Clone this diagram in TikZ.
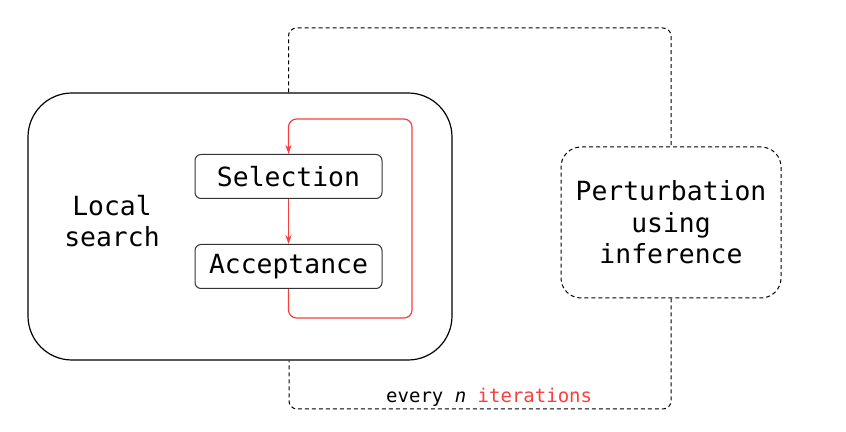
\documentclass[tikz,border=0pt]{standalone}
\usepackage{fontspec}
\setmonofont{DejaVu Sans Mono}
\usepackage{xcolor}
\usepackage{tikz}
\usetikzlibrary{arrows,arrows.meta}

\definecolor{looped}{RGB}{250,62,62}

\begin{document}
\begin{tikzpicture}[x=0.5pt,y=-0.5pt,
		box/.style={draw=black!80,line width=0.5pt,rounded corners=3pt,minimum width=93.5pt,minimum height=22pt,inner sep=0pt,font=\fontsize{13.2}{15.7}\ttfamily},
		lbl/.style={align=center,inner sep=0pt,font=\fontsize{13.2}{15.7}\ttfamily},
		dashline/.style={dash pattern=on 2pt off 1.5pt,line width=0.5pt,rounded corners=4pt}]
		\useasboundingbox (0,0) rectangle (846,432);
		\node (search) at (240,226.5) [draw,line width=0.6pt,rounded corners=22pt,minimum width=212pt,minimum height=133.5pt] {};
		\node (searchlabel) at (112,221) [lbl] {Local\\search};
		\node (sel) at (288.5,176.5) [box] {Selection};
		\node (acc) at (288.5,266.5) [box] {Acceptance};
		\node (pert) at (671,222.5) [draw,dashline,rounded corners=10pt,minimum width=110pt,minimum height=75.5pt,lbl] {Perturbation\\using\\inference};
		%
		\coordinate (loopB) at (412,318);
		\coordinate (loopT) at (412,119);
		\coordinate (outT) at (671,28);
		\coordinate (outBR) at (671,409);
		\coordinate (outBL) at (289,409);
		%
		% inner loop
		\path[->,color=looped,line width=0.6pt,>={Stealth[length=4.5pt,width=3pt]}]
		(sel) edge (acc);
		\draw[->,color=looped,line width=0.6pt,>={Stealth[length=4.5pt,width=3pt]},rounded corners=4pt]
		(acc.south) |- (loopB) -- (loopT) -| (sel.north);
		% outer loop
		\draw[dashline]
		(sel.north |- search.north) |- (outT) -- (pert.north);
		\draw[dashline]
		(pert.south) -- (outBR) -- node[pos=0.476,above=1pt,inner sep=0pt,font=\fontsize{9.5}{11}\ttfamily]{every \textit{n} \textcolor{looped}{iterations}} (outBL) -- (search.south -| outBL);
\end{tikzpicture}
\end{document}
